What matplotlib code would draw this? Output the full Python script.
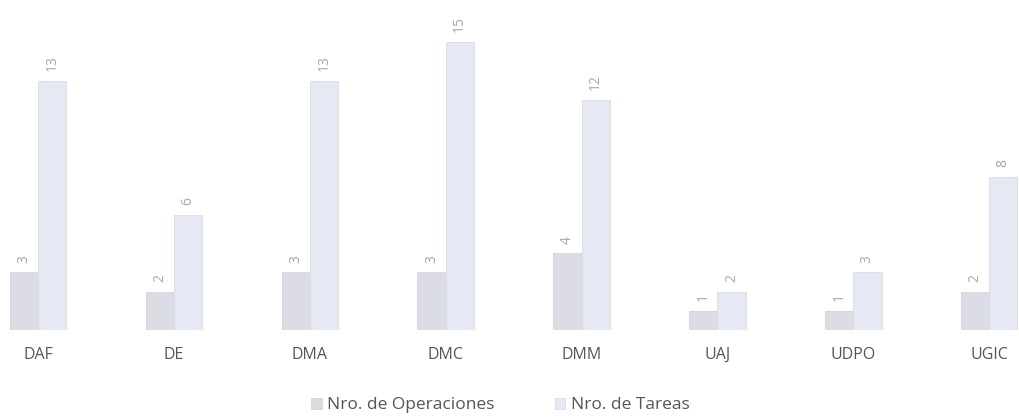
import numpy as np
import matplotlib.pyplot as plt

# %% Data
categories = ["DAF", "DE", "DMA", "DMC", "DMM", "UAJ", "UDPO", "UGIC"]
operaciones = [3, 2, 3, 3, 4, 1, 1, 2]
tareas = [13, 6, 13, 15, 12, 2, 3, 8]
series_names = ["Nro. de Operaciones", "Nro. de Tareas"]

plt.rcParams['font.family'] = ['Open Sans', 'DejaVu Sans']

fig = plt.figure(figsize=(10.19, 4.18), dpi=100)
ax = fig.add_axes([0, 0.2105, 1, 0.7345])

x = np.arange(len(categories))
w = 0.208
b1 = ax.bar(x - w / 2, operaciones, w, color="#dcdde4", edgecolor="#d2d4dc",
            linewidth=0.6, label=series_names[0])
b2 = ax.bar(x + w / 2, tareas, w, color="#e6e9f3", edgecolor="#d8dcea",
            linewidth=0.6, label=series_names[1])

# %% Value labels, rotated like the original
for bars in (b1, b2):
    for rect in bars:
        h = rect.get_height()
        ax.annotate(f"{int(h)}", (rect.get_x() + rect.get_width() / 2, h),
                    xytext=(0, 7), textcoords="offset points",
                    ha="center", va="bottom", rotation=90,
                    fontsize=10, color="#a8a8a8")

ax.set_xlim(-0.28, 7.22)
ax.set_ylim(0, 16)
ax.set_xticks(x)
ax.set_xticklabels(categories, fontsize=11.5, color="#555555")
ax.tick_params(axis="x", length=0, pad=12)
ax.set_yticks([])
for s in ax.spines.values():
    s.set_visible(False)

ax.legend(loc="center", bbox_to_anchor=(0.491, -0.245), ncol=2, frameon=False,
          fontsize=12.5, labelcolor="#555555", handlelength=0.6, handleheight=0.6,
          handletextpad=0.3, columnspacing=3.5)

fig.savefig("out.png", dpi=100)
